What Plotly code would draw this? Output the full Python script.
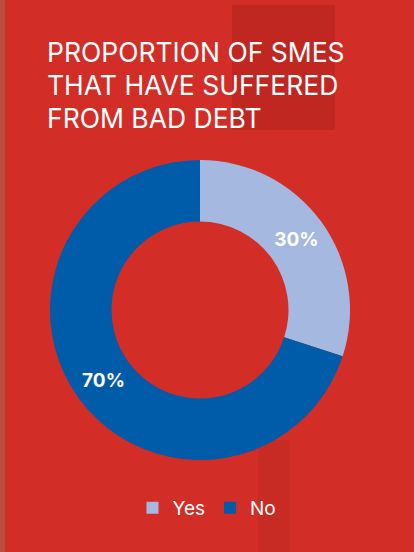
import plotly.graph_objects as go

labels = ["Yes", "No"]
values = [30, 70]
colors = ["#a5b8e0", "#005ca9"]
title_lines = ["PROPORTION OF SMES", "THAT HAVE SUFFERED", "FROM BAD DEBT"]

W, H = 414, 552

fig = go.Figure(go.Pie(
    labels=labels, values=values,
    marker=dict(colors=colors, line=dict(width=0)),
    hole=0.59, sort=False, direction="clockwise", rotation=0,
    textinfo="percent", texttemplate="%{percent:.0%}",
    textposition="inside", insidetextorientation="horizontal",
    textfont=dict(family="Inter", size=19, color="white", weight="bold"),
    domain=dict(x=[50 / W, 350 / W], y=[1 - 460 / H, 1 - 160 / H]),
    hoverinfo="label+percent",
))

shapes = [
    dict(type="rect", xref="paper", yref="paper", x0=232 / W, x1=335 / W, y0=1 - 130 / H, y1=1 - 5 / H,
         fillcolor="rgba(110,15,10,0.18)", line=dict(width=0), layer="below"),
    dict(type="rect", xref="paper", yref="paper", x0=0, x1=5 / W, y0=0, y1=1,
         fillcolor="rgba(170,120,90,0.45)", line=dict(width=0), layer="below"),
    dict(type="rect", xref="paper", yref="paper", x0=258 / W, x1=290 / W, y0=0, y1=1 - 440 / H,
         fillcolor="rgba(120,20,15,0.10)", line=dict(width=0), layer="below"),
]

annotations = []
for i, line in enumerate(title_lines):
    annotations.append(dict(
        text=line, xref="paper", yref="paper", x=45 / W, y=1 - (52 + 33 * i) / H,
        xanchor="left", yanchor="middle", showarrow=False,
        font=dict(family="Inter", size=26.5, color="white"),
    ))

fig.update_layout(
    width=W, height=H,
    margin=dict(l=0, r=0, t=0, b=0),
    paper_bgcolor="#d22d26",
    plot_bgcolor="#d22d26",
    showlegend=True,
    legend=dict(orientation="h", x=0.5, xanchor="center", y=1 - 508 / H, yanchor="middle",
                font=dict(family="Inter", size=19, color="white"),
                bgcolor="rgba(0,0,0,0)", itemwidth=30, traceorder="normal"),
    shapes=shapes,
    annotations=annotations,
)

fig.write_html("out.html", config={"displayModeBar": False},
               post_script="document.body.style.margin='0';document.body.style.padding='0';")
